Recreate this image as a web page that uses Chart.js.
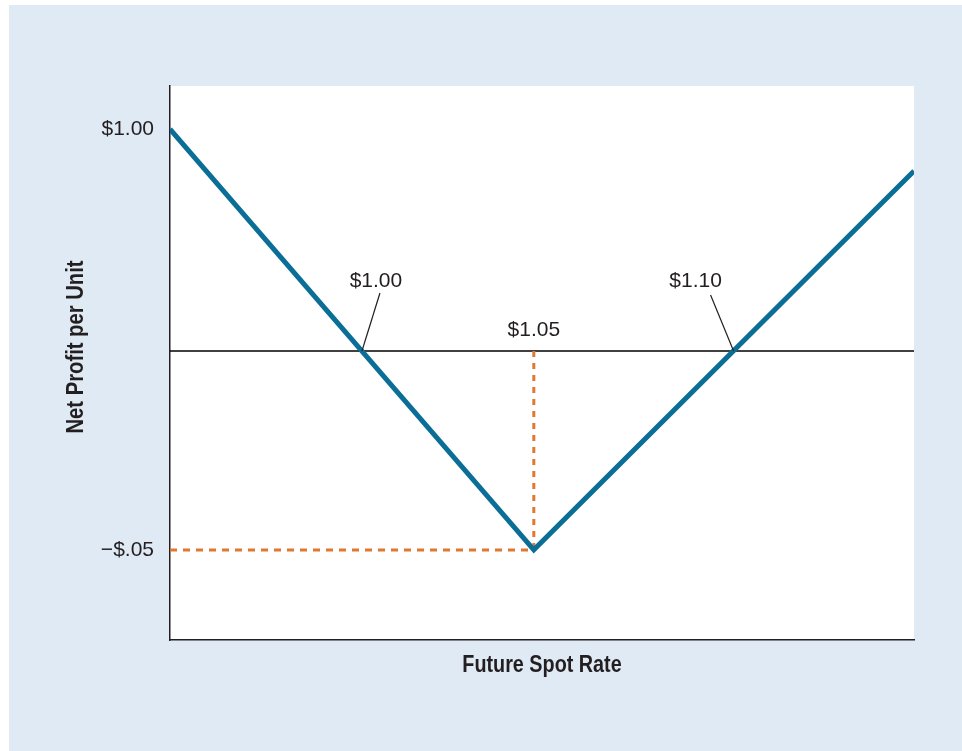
<!DOCTYPE html>
<html>
<head>
<meta charset="utf-8">
<script src="https://cdn.jsdelivr.net/npm/chart.js@4.4.1/dist/chart.umd.min.js"></script>
<style>
  html, body { margin: 0; padding: 0; background: #ffffff; }
  #wrap { width: 962px; height: 751px; }
</style>
</head>
<body>
<div id="wrap"><canvas id="c" width="962" height="751"></canvas></div>
<script>
// Schematic diagram: positions (x: 0-100 across the plot, y: $1.00 = 1 unit above zero)
const payoffX = [0, 48.9, 100];
const payoffY = [1.0, -0.896, 0.811];

const breakEvenX = [25.8, 48.9, 75.75];
const breakEvenLabels = ['$1.00', '$1.05', '$1.10'];

const minimumX = 48.9;
const minimumY = -0.896;

const yTickValues = [1.0, -0.896];
const yTickLabels = ['$1.00', '\u2212$.05'];

const xTitle = 'Future Spot Rate';
const yTitle = 'Net Profit per Unit';

const BLUE = '#0b6e97';
const ORANGE = '#e2772f';
const INK = '#231f20';

const bgPlugin = {
  id: 'bg',
  beforeDraw(chart) {
    const { ctx, chartArea: a } = chart;
    ctx.save();
    ctx.fillStyle = '#ffffff';
    ctx.fillRect(0, 0, chart.width, chart.height);
    ctx.fillStyle = '#e0eaf5';
    ctx.fillRect(9, 5, chart.width - 9, chart.height - 5);
    ctx.fillStyle = '#ffffff';
    ctx.fillRect(a.left, a.top, a.right - a.left, a.bottom - a.top);
    ctx.restore();
  }
};

const annPlugin = {
  id: 'ann',
  afterDraw(chart) {
    const { ctx, chartArea: a } = chart;
    const xs = chart.scales.x, ys = chart.scales.y;
    const zeroPx = ys.getPixelForValue(0);
    ctx.save();
    ctx.fillStyle = INK;
    ctx.strokeStyle = INK;
    ctx.lineWidth = 1.2;
    ctx.textAlign = 'center';
    ctx.textBaseline = 'middle';
    ctx.font = '21px "Liberation Sans", Arial, sans-serif';
    // label offsets (label centre, leader start) relative to the crossing point
    const offsets = [
      { lx: 14, ly: -70, sx: 18, sy: -58, leader: true },
      { lx: 0, ly: -21, leader: false },
      { lx: -38, ly: -70, sx: -23, sy: -56, leader: true }
    ];
    breakEvenX.forEach((v, i) => {
      const px = xs.getPixelForValue(v);
      const o = offsets[i];
      ctx.fillText(breakEvenLabels[i], px + o.lx, zeroPx + o.ly);
      if (o.leader) {
        ctx.beginPath();
        ctx.moveTo(px + o.sx, zeroPx + o.sy);
        ctx.lineTo(px, zeroPx);
        ctx.stroke();
      }
    });
    // axis titles (condensed bold look via horizontal scaling)
    ctx.font = 'bold 23px "Liberation Sans", Arial, sans-serif';
    ctx.save();
    ctx.translate((a.left + a.right) / 2, 666);
    ctx.scale(0.86, 1);
    ctx.fillText(xTitle, 0, 0);
    ctx.restore();
    ctx.save();
    ctx.translate(77, 347);
    ctx.rotate(-Math.PI / 2);
    ctx.scale(0.88, 1);
    ctx.fillText(yTitle, 0, 0);
    ctx.restore();
    ctx.restore();
  }
};

new Chart(document.getElementById('c'), {
  type: 'line',
  data: {
    datasets: [
      {
        label: 'Net profit',
        data: payoffX.map((x, i) => ({ x, y: payoffY[i] })),
        borderColor: BLUE,
        borderWidth: 5,
        borderJoinStyle: 'miter',
        pointRadius: 0,
        tension: 0,
        order: 0
      },
      {
        label: 'Minimum vertical',
        data: [{ x: minimumX, y: 0 }, { x: minimumX, y: minimumY }],
        borderColor: ORANGE,
        borderWidth: 3,
        borderDash: [6, 6],
        pointRadius: 0,
        order: 1
      },
      {
        label: 'Minimum horizontal',
        data: [{ x: 0, y: minimumY }, { x: minimumX, y: minimumY }],
        borderColor: ORANGE,
        borderWidth: 3,
        borderDash: [7, 6],
        pointRadius: 0,
        order: 1
      },
      {
        label: 'Zero',
        data: [{ x: 0, y: 0 }, { x: 100, y: 0 }],
        borderColor: '#000000',
        borderWidth: 1.3,
        pointRadius: 0,
        order: 2
      }
    ]
  },
  options: {
    responsive: false,
    animation: false,
    events: [],
    layout: { padding: { top: 86, right: 48, left: 0, bottom: 0 } },
    plugins: { legend: { display: false }, tooltip: { enabled: false } },
    scales: {
      x: {
        type: 'linear',
        min: 0,
        max: 100,
        grid: { display: false, drawTicks: false },
        border: { display: true, color: INK, width: 1.5 },
        ticks: { display: false },
        afterFit(s) { s.height = 111; }
      },
      y: {
        type: 'linear',
        min: -1.302,
        max: 1.194,
        grid: { display: false, drawTicks: false },
        border: { display: true, color: INK, width: 1.5 },
        afterBuildTicks(s) { s.ticks = yTickValues.map(v => ({ value: v })); },
        ticks: {
          padding: 16,
          color: INK,
          font: { family: '"Liberation Sans", Arial, sans-serif', size: 21 },
          callback(value, index) { return yTickLabels[index]; }
        },
        afterFit(s) { s.width = 170; }
      }
    }
  },
  plugins: [bgPlugin, annPlugin]
});
</script>
</body>
</html>
